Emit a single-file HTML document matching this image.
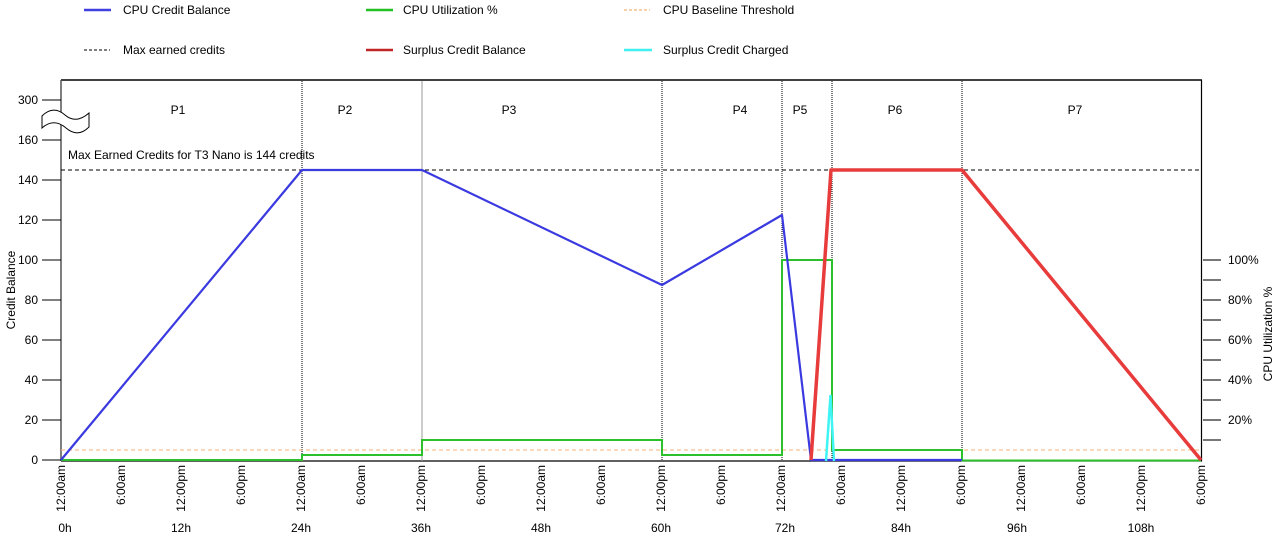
<!DOCTYPE html>
<html><head><meta charset="utf-8"><style>
html,body{margin:0;padding:0;background:#fff;}
svg{display:block;font-family:"Liberation Sans",Arial,sans-serif;}
text{font-size:12px;fill:#000;}
</style></head><body>
<svg width="1278" height="541" viewBox="0 0 1278 541" xmlns="http://www.w3.org/2000/svg">
<!-- Legend -->
<line x1="84" y1="10" x2="111" y2="10" stroke="#4040e0" stroke-width="2.5"/>
<text x="123" y="14">CPU Credit Balance</text>
<line x1="366" y1="10" x2="393" y2="10" stroke="#22c022" stroke-width="2.5"/>
<text x="403" y="14">CPU Utilization %</text>
<line x1="624" y1="10" x2="650" y2="10" stroke="#f0a050" stroke-width="1" stroke-dasharray="3,2"/>
<text x="663" y="14">CPU Baseline Threshold</text>
<line x1="84" y1="50" x2="110" y2="50" stroke="#555" stroke-width="1.5" stroke-dasharray="3,2"/>
<text x="123" y="54">Max earned credits</text>
<line x1="366" y1="50" x2="393" y2="50" stroke="#c02424" stroke-width="2.5"/>
<text x="403" y="54">Surplus Credit Balance</text>
<line x1="624" y1="50" x2="652" y2="50" stroke="#40f0f0" stroke-width="2.5"/>
<text x="663" y="54">Surplus Credit Charged</text>

<!-- Plot frame -->
<line x1="61" y1="80" x2="1202" y2="80" stroke="#000" stroke-width="1.5"/>
<line x1="1201.5" y1="80" x2="1201.5" y2="461" stroke="#000" stroke-width="1.2"/>
<line x1="61" y1="80" x2="61" y2="461" stroke="#555" stroke-width="1.5"/>
<line x1="61" y1="461" x2="1202" y2="461" stroke="#000" stroke-width="1.2"/>

<!-- Left ticks -->
<g stroke="#000" stroke-width="1">
<line x1="42" y1="100" x2="61" y2="100"/>
<line x1="42" y1="140" x2="61" y2="140"/>
<line x1="42" y1="180" x2="61" y2="180"/>
<line x1="42" y1="220" x2="61" y2="220"/>
<line x1="42" y1="260" x2="61" y2="260"/>
<line x1="42" y1="300" x2="61" y2="300"/>
<line x1="42" y1="340" x2="61" y2="340"/>
<line x1="42" y1="380" x2="61" y2="380"/>
<line x1="42" y1="420" x2="61" y2="420"/>
<line x1="42" y1="460" x2="61" y2="460"/>
</g>
<g text-anchor="end">
<text x="38" y="104">300</text>
<text x="38" y="144">160</text>
<text x="38" y="184">140</text>
<text x="38" y="224">120</text>
<text x="38" y="264">100</text>
<text x="38" y="304">80</text>
<text x="38" y="344">60</text>
<text x="38" y="384">40</text>
<text x="38" y="424">20</text>
<text x="38" y="464">0</text>
</g>
<text transform="translate(15,290) rotate(-90)" text-anchor="middle">Credit Balance</text>

<!-- Break symbol -->
<path d="M42,116 C50,108 58,109 65,115 S80,121 89,113 L89,127 C81,135 73,134 66,128 S51,120 42,128 Z" fill="#fff" stroke="#000" stroke-width="1"/>

<!-- Right ticks -->
<g stroke="#777" stroke-width="2">
<line x1="1203" y1="260" x2="1221" y2="260"/>
<line x1="1203" y1="280" x2="1221" y2="280"/>
<line x1="1203" y1="300" x2="1221" y2="300"/>
<line x1="1203" y1="320" x2="1221" y2="320"/>
<line x1="1203" y1="340" x2="1221" y2="340"/>
<line x1="1203" y1="360" x2="1221" y2="360"/>
<line x1="1203" y1="380" x2="1221" y2="380"/>
<line x1="1203" y1="400" x2="1221" y2="400"/>
<line x1="1203" y1="420" x2="1221" y2="420"/>
<line x1="1203" y1="440" x2="1221" y2="440"/>
</g>
<text x="1228" y="264">100%</text>
<text x="1228" y="304">80%</text>
<text x="1228" y="344">60%</text>
<text x="1228" y="384">40%</text>
<text x="1228" y="424">20%</text>
<text transform="translate(1272,334) rotate(-90)" text-anchor="middle">CPU Utilization %</text>

<!-- Dividers -->
<g stroke="#000" stroke-width="1" stroke-dasharray="1,1">
<line x1="302" y1="81" x2="302" y2="461"/>
<line x1="662" y1="81" x2="662" y2="461"/>
<line x1="782" y1="81" x2="782" y2="461"/>
<line x1="832" y1="81" x2="832" y2="461"/>
<line x1="962" y1="81" x2="962" y2="461"/>
</g>
<line x1="422" y1="81" x2="422" y2="461" stroke="#999" stroke-width="1"/>

<!-- Period labels -->
<g text-anchor="middle">
<text x="178" y="114">P1</text>
<text x="345" y="114">P2</text>
<text x="509" y="114">P3</text>
<text x="740" y="114">P4</text>
<text x="800" y="114">P5</text>
<text x="895" y="114">P6</text>
<text x="1075" y="114">P7</text>
</g>

<text x="68" y="159">Max Earned Credits for T3 Nano is 144 credits</text>

<!-- Max earned dashed -->
<line x1="61" y1="170" x2="1201" y2="170" stroke="#000" stroke-width="1" stroke-dasharray="4,3"/>
<!-- Baseline threshold -->
<line x1="61" y1="450" x2="1201" y2="450" stroke="#f4b07a" stroke-width="1" stroke-dasharray="4,3"/>

<!-- Green CPU utilization -->
<polyline fill="none" stroke="#2cc02c" stroke-width="2" points="61,460 302,460 302,455 422,455 422,440 662,440 662,455 782,455 782,260 832,260 832,450 962,450 962,460.5 1201,460.5"/>

<!-- Blue credit balance -->
<polyline fill="none" stroke="#3a3ae0" stroke-width="2.2" stroke-linejoin="round" points="61,460 302,170 422,170 662,285 782,215 811,460 962,460"/>

<!-- Red surplus -->
<polyline fill="none" stroke="#e83c3c" stroke-width="3.5" stroke-linejoin="round" points="811,460 831,170 962,170 1201,460"/>

<!-- Cyan -->
<polyline fill="none" stroke="#3ff4f4" stroke-width="2.5" points="826,461 830.5,395 834,461"/>

<!-- X tick labels -->
<g text-anchor="end">
<text transform="translate(61,465) rotate(-90)" dy="0.35em">12:00am</text>
<text transform="translate(121,465) rotate(-90)" dy="0.35em">6:00am</text>
<text transform="translate(181,465) rotate(-90)" dy="0.35em">12:00pm</text>
<text transform="translate(241,465) rotate(-90)" dy="0.35em">6:00pm</text>
<text transform="translate(301,465) rotate(-90)" dy="0.35em">12:00am</text>
<text transform="translate(361,465) rotate(-90)" dy="0.35em">6:00am</text>
<text transform="translate(421,465) rotate(-90)" dy="0.35em">12:00pm</text>
<text transform="translate(481,465) rotate(-90)" dy="0.35em">6:00pm</text>
<text transform="translate(541,465) rotate(-90)" dy="0.35em">12:00am</text>
<text transform="translate(601,465) rotate(-90)" dy="0.35em">6:00am</text>
<text transform="translate(661,465) rotate(-90)" dy="0.35em">12:00pm</text>
<text transform="translate(721,465) rotate(-90)" dy="0.35em">6:00pm</text>
<text transform="translate(781,465) rotate(-90)" dy="0.35em">12:00am</text>
<text transform="translate(841,465) rotate(-90)" dy="0.35em">6:00am</text>
<text transform="translate(901,465) rotate(-90)" dy="0.35em">12:00pm</text>
<text transform="translate(961,465) rotate(-90)" dy="0.35em">6:00pm</text>
<text transform="translate(1021,465) rotate(-90)" dy="0.35em">12:00am</text>
<text transform="translate(1081,465) rotate(-90)" dy="0.35em">6:00am</text>
<text transform="translate(1141,465) rotate(-90)" dy="0.35em">12:00pm</text>
<text transform="translate(1201,465) rotate(-90)" dy="0.35em">6:00pm</text>
</g>

<!-- Hour labels -->
<g text-anchor="middle">
<text x="65" y="532">0h</text>
<text x="181" y="532">12h</text>
<text x="301" y="532">24h</text>
<text x="421" y="532">36h</text>
<text x="541" y="532">48h</text>
<text x="661" y="532">60h</text>
<text x="785" y="532">72h</text>
<text x="901" y="532">84h</text>
<text x="1017" y="532">96h</text>
<text x="1141" y="532">108h</text>
</g>
</svg>
</body></html>
